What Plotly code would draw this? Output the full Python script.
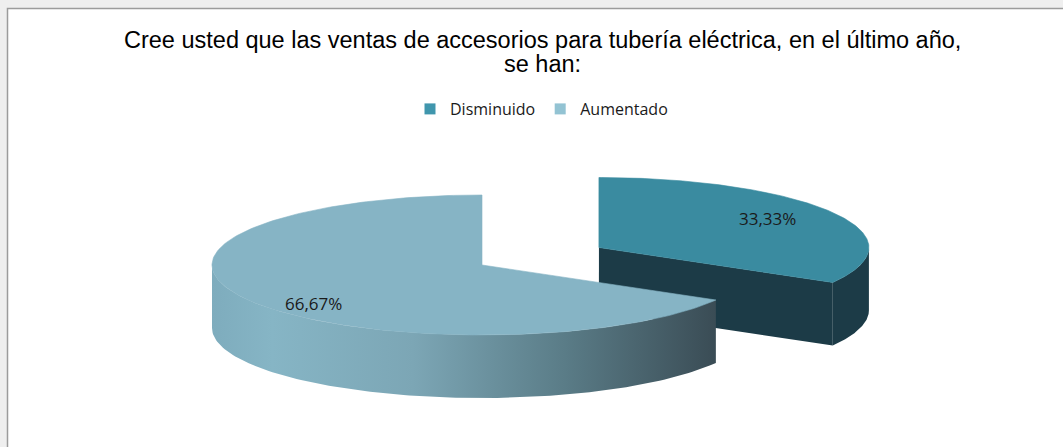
import numpy as np
import plotly.graph_objects as go

# ---- data ----
categories = ["Disminuido", "Aumentado"]
values = [33.33, 66.67]
value_labels = ["33,33%", "66,67%"]
exploded = [0.5, 0.0]
title_lines = [
    "Cree usted que las ventas de accesorios para tubería eléctrica, en el último año,",
    "se han:",
]

# ---- styling ----
top_colors = ["#3a8ba0", "#86b4c5"]
legend_colors = ["#4096ad", "#93c3d3"]
side_scales = [
    [[0, "#1c3b47"], [1, "#1c3b47"]],
    [[0, "#7eacbd"], [0.12, "#86b5c5"], [0.4, "#7ca6b5"],
     [0.7, "#5a7c87"], [1, "#3a4c55"]],
]
cut_colors = ["#1c3b47", "#4a6570"]

W, H = 1063, 447
CX, CY = 482, 265          # pie centre in px
RX, RY = 270, 70           # ellipse radii of the tilted disc
DEPTH = 63                 # thickness of the disc


def pt(cx, cy, ang, r=1.0, dy=0.0):
    a = np.radians(ang)
    return cx + RX * r * np.sin(a), cy - RY * r * np.cos(a) + dy


fig = go.Figure()

# slice angles (clockwise from 12 o'clock)
total = sum(values)
bounds = np.concatenate([[0], np.cumsum(values) / total * 360])
slices = []
for i, cat in enumerate(categories):
    a0, a1 = bounds[i], bounds[i + 1]
    mid = (a0 + a1) / 2
    ox, oy = pt(0, 0, mid, exploded[i])
    slices.append(dict(i=i, a0=a0, a1=a1, mid=mid, cx=CX + ox, cy=CY + oy))

# back to front
for s in sorted(slices, key=lambda s: s["cy"]):
    i, a0, a1, cx, cy = s["i"], s["a0"], s["a1"], s["cx"], s["cy"]

    # radial cut faces that turn toward the viewer
    for edge, normal in ((a0, a0 - 90), (a1, a1 + 90)):
        n = normal % 360
        if 95 < n < 265:
            ex, ey = pt(cx, cy, edge)
            xs = [cx, ex, ex, cx, cx]
            ys = [cy, ey, ey + DEPTH, cy + DEPTH, cy]
            fig.add_trace(go.Scatter(x=xs, y=ys, fill="toself", mode="lines",
                                     line=dict(width=0), fillcolor=cut_colors[i],
                                     hoverinfo="skip", showlegend=False))

    # outer wall (front half only)
    lo, hi = max(a0, 90), min(a1, 270)
    if hi > lo:
        ang = np.linspace(lo, hi, 120)
        tx, ty = pt(cx, cy, ang)
        bx, by = pt(cx, cy, ang[::-1], dy=DEPTH)
        xs = np.concatenate([tx, bx, tx[:1]])
        ys = np.concatenate([ty, by, ty[:1]])
        fig.add_trace(go.Scatter(
            x=xs, y=ys, fill="toself", mode="lines", line=dict(width=0),
            fillgradient=dict(type="horizontal", colorscale=side_scales[i],
                              start=float(xs.min()), stop=float(xs.max())),
            hoverinfo="skip", showlegend=False))

    # top face
    ang = np.linspace(a0, a1, 200)
    tx, ty = pt(cx, cy, ang)
    xs = np.concatenate([[cx], tx, [cx]])
    ys = np.concatenate([[cy], ty, [cy]])
    fig.add_trace(go.Scatter(x=xs, y=ys, fill="toself", mode="lines",
                             line=dict(width=0.6, color=top_colors[i]),
                             fillcolor=top_colors[i], hoverinfo="skip",
                             showlegend=False))

    # value label
    a = np.radians(s["mid"])
    lx = cx + 0.72 * RX * np.sin(a)
    ly = cy - 0.96 * RY * np.cos(a) + 4.5
    fig.add_annotation(x=lx, y=ly, xref="x", yref="y", text=value_labels[i],
                       showarrow=False,
                       font=dict(family="Open Sans", size=17, color="#1a1a1a"))

# legend entries
for i, cat in enumerate(categories):
    fig.add_trace(go.Scatter(x=[None], y=[None], mode="markers", name=cat,
                             marker=dict(symbol="square", size=11,
                                         color=legend_colors[i])))

# chart frame
fig.add_shape(type="rect", xref="x", yref="y", x0=7.5, y0=8.5, x1=W + 20,
              y1=H + 20, fillcolor="white",
              line=dict(color="#9c9c9c", width=1.5), layer="below")

# title, two lines set tighter than the default line height
for k, line in enumerate(title_lines):
    fig.add_annotation(
        x=542, y=40 + 24 * k, xref="x", yref="y", showarrow=False,
        text=line, yanchor="middle",
        font=dict(family="Liberation Sans", size=23.5, color="#000000"))

fig.update_xaxes(range=[0, W], visible=False, fixedrange=True)
fig.update_yaxes(range=[H, 0], visible=False, fixedrange=True)
fig.update_layout(
    width=W, height=H, margin=dict(l=0, r=0, t=0, b=0),
    paper_bgcolor="#efefef", plot_bgcolor="rgba(0,0,0,0)",
    showlegend=True,
    legend=dict(orientation="h", x=410 / W, xanchor="left",
                y=1 - 109 / H, yanchor="middle",
                bgcolor="rgba(0,0,0,0)",
                font=dict(family="Open Sans", size=16, color="#1a1a1a"),
                itemclick=False, itemdoubleclick=False),
)

fig.write_html("out.html")
